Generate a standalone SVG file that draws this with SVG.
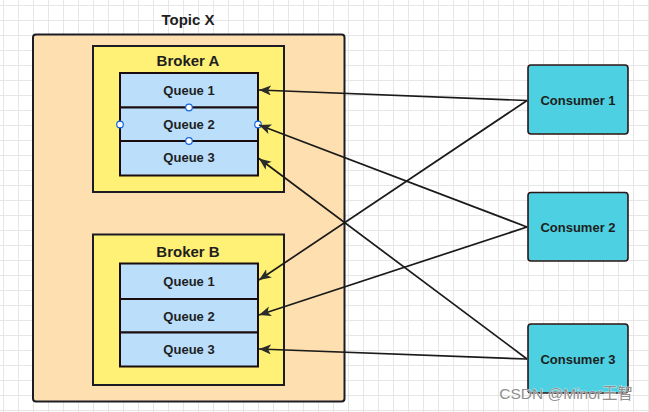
<svg xmlns="http://www.w3.org/2000/svg" width="649" height="412" viewBox="0 0 649 412">
  <style>
    .lbl { font-family: "Liberation Sans", Arial, sans-serif; font-weight: bold; fill: #1e1e1e; text-anchor: middle; dominant-baseline: central; }
    .topic { fill: #fedfb0; stroke: #1c1c24; stroke-width: 2; }
    .broker { fill: #fff176; stroke: #1c1c24; stroke-width: 2; }
    .queue { fill: #bbdefb; stroke: #1a0d0d; stroke-width: 2; }
    .consumer { fill: #4dd0e1; stroke: #2e1414; stroke-width: 1.6; }
    .conn { fill: none; stroke: #1a1a1a; stroke-width: 1.7; }
    .handle { fill: #ffffff; stroke: #1565e0; stroke-width: 1.2; }
  </style>
  <defs>
    <pattern id="grid" patternUnits="userSpaceOnUse" x="3" y="5" width="15" height="15">
      <path d="M0 0.5 H15 M0.5 0 V15" fill="none" stroke="#e6e6e6" stroke-width="1"/>
    </pattern>
    <marker id="arrow" markerUnits="userSpaceOnUse" markerWidth="14" markerHeight="12" refX="12" refY="5" orient="auto">
      <path d="M0,0 L12,5 L0,10 L3,5 z" fill="#2b2b2b"/>
    </marker>
  </defs>
  <rect width="649" height="412" fill="#ffffff"/>
  <rect width="649" height="412" fill="url(#grid)"/>

  <g id="topic-x">
    <rect class="topic" x="33" y="34.5" width="311.5" height="367" rx="3"/>
    <text class="lbl" x="188" y="19" font-size="15">Topic X</text>
  </g>

  <g id="broker-a">
    <rect class="broker" x="93" y="46" width="191" height="146"/>
    <text class="lbl" x="188" y="60" font-size="15">Broker A</text>
  </g>
  <g id="broker-a-queue-1">
    <rect class="queue" x="120" y="73" width="138" height="34.5"/>
    <text class="lbl" x="189" y="90" font-size="13">Queue 1</text>
  </g>
  <g id="broker-a-queue-3">
    <rect class="queue" x="120" y="141" width="138" height="34.5"/>
    <text class="lbl" x="189" y="157.5" font-size="13">Queue 3</text>
  </g>
  <g id="broker-a-queue-2">
    <rect class="queue" x="120" y="107.5" width="138" height="33.5"/>
    <text class="lbl" x="189" y="124.5" font-size="13">Queue 2</text>
    <circle class="handle" cx="189" cy="107.5" r="3.3"/>
    <circle class="handle" cx="189" cy="141" r="3.3"/>
    <circle class="handle" cx="120" cy="124.5" r="3.3"/>
    <circle class="handle" cx="258" cy="124.5" r="3.3"/>
  </g>

  <g id="broker-b">
    <rect class="broker" x="93" y="234.5" width="191" height="150.5"/>
    <text class="lbl" x="188" y="251" font-size="15">Broker B</text>
  </g>
  <g id="broker-b-queue-1">
    <rect class="queue" x="120" y="263.5" width="138" height="35.5"/>
    <text class="lbl" x="189" y="281.5" font-size="13">Queue 1</text>
  </g>
  <g id="broker-b-queue-2">
    <rect class="queue" x="120" y="299" width="138" height="33.5"/>
    <text class="lbl" x="189" y="316" font-size="13">Queue 2</text>
  </g>
  <g id="broker-b-queue-3">
    <rect class="queue" x="120" y="332.5" width="138" height="34"/>
    <text class="lbl" x="189" y="349" font-size="13">Queue 3</text>
  </g>

  <g id="consumer-1">
    <rect class="consumer" x="528" y="65" width="100" height="69" rx="3"/>
    <text class="lbl" x="578" y="100" font-size="13">Consumer 1</text>
  </g>
  <g id="consumer-2">
    <rect class="consumer" x="528" y="192.5" width="100" height="68.5" rx="3"/>
    <text class="lbl" x="578" y="227" font-size="13">Consumer 2</text>
  </g>
  <g id="consumer-3">
    <rect class="consumer" x="528" y="324" width="100" height="69" rx="3"/>
    <text class="lbl" x="578" y="359" font-size="13">Consumer 3</text>
  </g>

  <g id="connectors">
    <path class="conn" d="M527,100.5 L259,90" marker-end="url(#arrow)"/>
    <path class="conn" d="M527,100.5 L259,280" marker-end="url(#arrow)"/>
    <path class="conn" d="M527,227 L259,125" marker-end="url(#arrow)"/>
    <path class="conn" d="M527,227 L259,315" marker-end="url(#arrow)"/>
    <path class="conn" d="M527,359 L259,158.5" marker-end="url(#arrow)"/>
    <path class="conn" d="M527,359 L259,349" marker-end="url(#arrow)"/>
  </g>

  <text x="633" y="399" font-family="'Liberation Sans', 'Noto Sans CJK SC', sans-serif" font-size="15.5" fill="#8f8f8f" stroke="#ffffff" stroke-width="0.6" paint-order="stroke" text-anchor="end">CSDN @Minor王智</text>
</svg>
